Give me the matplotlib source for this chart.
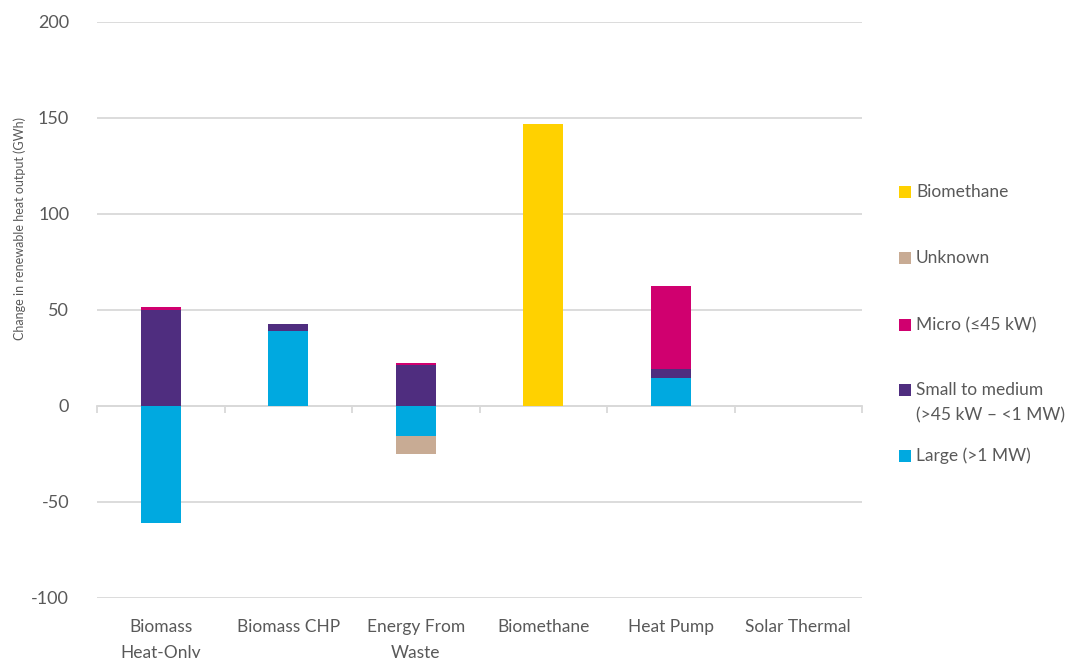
import matplotlib
matplotlib.use("Agg")
import matplotlib.pyplot as plt
import numpy as np
from matplotlib.patches import Rectangle

plt.rcParams['font.family'] = ['Lato', 'DejaVu Sans']
plt.rcParams['axes.unicode_minus'] = False

categories = ["Biomass\nHeat-Only", "Biomass CHP", "Energy From\nWaste",
              "Biomethane", "Heat Pump", "Solar Thermal"]

# Change in renewable heat output (GWh) by size band
large = [-61.0, 39.2, -15.6, 0.0, 14.5, 0.0]
small_medium = [50.0, 3.7, 21.5, 0.0, 5.0, 0.0]
micro = [1.6, 0.0, 0.7, 0.0, 43.0, 0.0]
unknown = [0.0, 0.0, -9.4, 0.0, 0.0, 0.0]
biomethane = [0.0, 0.0, 0.0, 147.0, 0.0, 0.0]

series = [
    ("Large (>1 MW)", large, "#00A9E0"),
    ("Small to medium\n(>45 kW \u2013 <1 MW)", small_medium, "#4F2D7F"),
    ("Micro (\u226445 kW)", micro, "#D0006F"),
    ("Unknown", unknown, "#C8AB94"),
    ("Biomethane", biomethane, "#FFD100"),
]

text_col = "#595959"
grid_col = "#D9D9D9"

W, H = 1080, 658
fig = plt.figure(figsize=(W / 100, H / 100), dpi=100)
ax = fig.add_axes([97 / W, (H - 598) / H, (862 - 97) / W, 576 / H])

x = np.arange(len(categories))
pos_base = np.zeros(len(categories))
neg_base = np.zeros(len(categories))
for name, vals, col in series:
    v = np.array(vals, dtype=float)
    bottoms = np.where(v >= 0, pos_base, neg_base)
    ax.bar(x, v, width=0.31, bottom=bottoms, color=col, zorder=3, linewidth=0)
    pos_base += np.where(v > 0, v, 0)
    neg_base += np.where(v < 0, v, 0)

ax.set_xlim(-0.5, len(categories) - 0.5)
ax.set_ylim(-100, 200)
ax.set_yticks(np.arange(-100, 201, 50))
ax.yaxis.grid(True, color=grid_col, linewidth=1.3, zorder=0)
ax.set_axisbelow(True)
for s in ax.spines.values():
    s.set_visible(False)
ax.tick_params(axis='y', length=0, pad=20, labelsize=13, labelcolor=text_col)
ax.set_xticks(x)
ax.set_xticklabels(categories, fontsize=12.5, color=text_col, linespacing=1.75)
ax.tick_params(axis='x', length=0, pad=15)

# Category axis running along zero with boundary ticks
sec = ax.secondary_xaxis(0, transform=ax.transData)
sec.set_xticks(np.arange(-0.5, len(categories), 1.0))
sec.set_xticklabels([])
sec.tick_params(axis='x', length=5, width=1.3, color=grid_col, direction='out')
sec.spines['bottom'].set_color(grid_col)
sec.spines['bottom'].set_linewidth(1.3)

fig.text(20 / W, 1 - 228 / H, "Change in renewable heat output (GWh)",
         rotation=90, ha='center', va='center', fontsize=9, color=text_col)

# Legend entries, top to bottom (y of first text line, px)
legend_rows = [
    ("Biomethane", "#FFD100", 192),
    ("Unknown", "#C8AB94", 258),
    ("Micro (\u226445 kW)", "#D0006F", 325),
    ("Small to medium\n(>45 kW \u2013 <1 MW)", "#4F2D7F", 390),
    ("Large (>1 MW)", "#00A9E0", 456),
]
for label, col, yc in legend_rows:
    fig.patches.append(Rectangle((899 / W, 1 - (yc + 6) / H), 12 / W, 12 / H,
                                 transform=fig.transFigure, color=col,
                                 linewidth=0))
    nlines = label.count('\n') + 1
    ymid = yc + (nlines - 1) * 12.5
    fig.text(916 / W, 1 - ymid / H, label, ha='left', va='center',
             fontsize=12.5, color=text_col, linespacing=1.75)

fig.savefig("out.png", dpi=100)
